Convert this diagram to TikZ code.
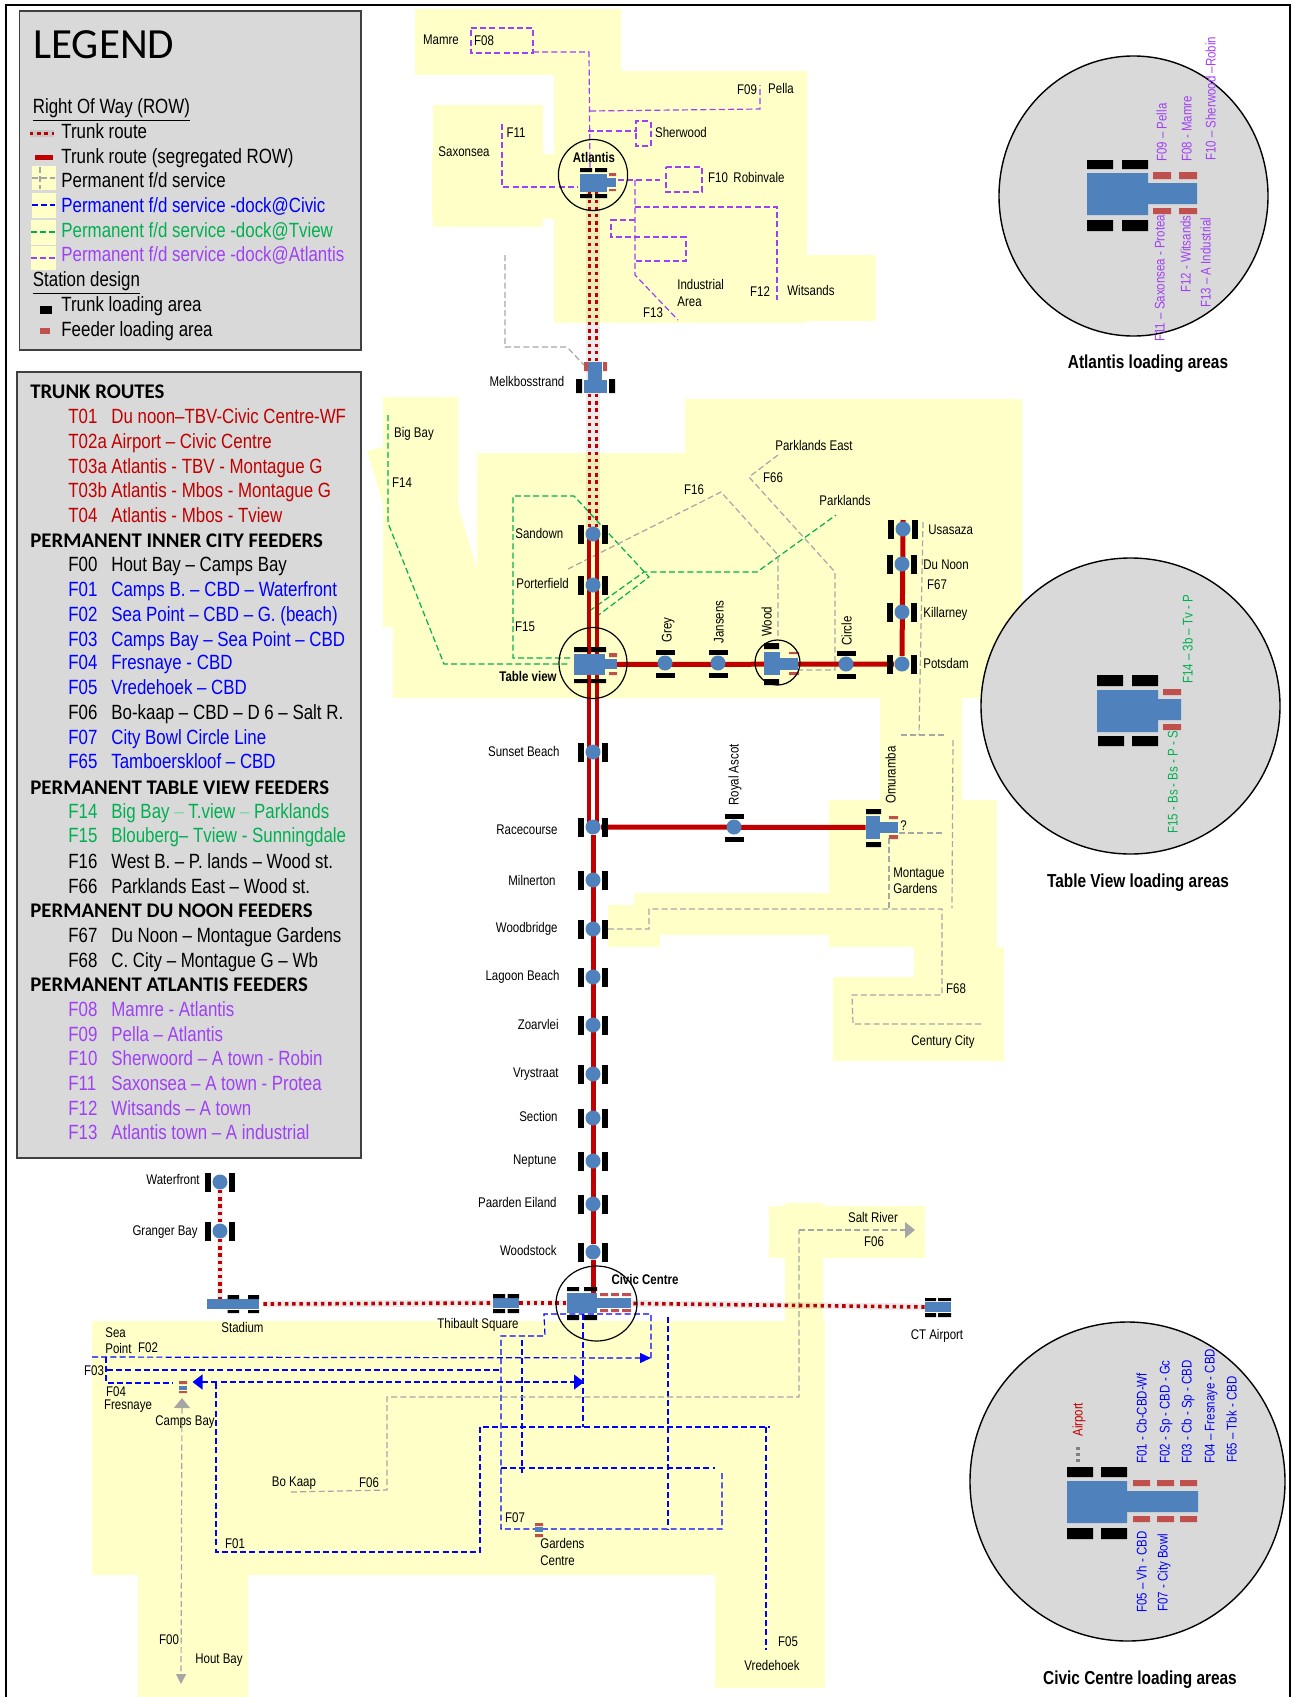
\documentclass[tikz,border=0pt]{standalone}
\usepackage{fontspec}
\setmainfont{Liberation Sans}[FakeStretch=0.82]
\newfontfamily\calib{Carlito}
\usepackage{tikz}
\usetikzlibrary{positioning,arrows.meta,shapes.geometric,backgrounds}
\usepackage{xcolor}
\definecolor{trunkred}{HTML}{C00000}
\definecolor{feedblue}{HTML}{0000FF}
\definecolor{feedgreen}{HTML}{00B050}
\definecolor{feedpurple}{HTML}{A040F5}
\definecolor{feedgray}{HTML}{A6A6A6}
\definecolor{landyellow}{HTML}{FFFFC8}
\definecolor{stnblue}{HTML}{4F81BD}
\definecolor{stnred}{HTML}{C0504D}
\definecolor{panelgray}{HTML}{D9D9D9}

\newcommand{\rowlab}[1]{\makebox[21.5pt][l]{#1}}
\newcommand{\stopv}[3]{%
  \node[barv] (#1l) at (#2-12,#3) {};
  \node[barv] (#1r) at (#2+12,#3) {};
  \node[stopdot] (#1) at (#2,#3) {};}
\newcommand{\stoph}[3]{%
  \node[barh] (#1t) at (#2,#3-11) {};
  \node[barh] (#1b) at (#2,#3+12) {};
  \node[stopdot] (#1) at (#2,#3) {};}

\begin{document}
\begin{tikzpicture}[
    x=0.5pt, y=-0.5pt,
    panel/.style={draw=black!75, line width=0.8pt, fill=panelgray},
    land/.style={fill=landyellow},
    legtxt/.style={anchor=west, inner sep=0pt, text height=7.6pt, text depth=1pt, font=\fontsize{10.3pt}{12pt}\selectfont},
    leghead/.style={anchor=west, inner sep=0pt, text height=7pt, text depth=1pt, font=\calib\bfseries\fontsize{10.4pt}{12pt}\selectfont},
    maplbl/.style={inner sep=0pt, text height=5.4pt, text depth=0.9pt, font=\fontsize{7pt}{8pt}\selectfont},
    boldlbl/.style={inner sep=0pt, text height=5.4pt, text depth=0.9pt, font=\bfseries\fontsize{7pt}{8pt}\selectfont},
    titlelbl/.style={inner sep=0pt, text height=7pt, text depth=1pt, font=\bfseries\fontsize{9.4pt}{11pt}\selectfont},
    rotlbl/.style={rotate=90, anchor=west, inner sep=0pt, text height=5.4pt, text depth=0.9pt, font=\fontsize{7pt}{8pt}\selectfont},
    barv/.style={rectangle, fill=black, inner sep=0pt, minimum width=3pt, minimum height=9.5pt},
    barh/.style={rectangle, fill=black, inner sep=0pt, minimum width=9.5pt, minimum height=2.5pt},
    stopdot/.style={circle, fill=stnblue, inner sep=0pt, minimum size=7.5pt},
    stnbody/.style={rectangle, fill=stnblue, inner sep=0pt},
    ring/.style={ellipse, draw=black, line width=0.6pt, inner sep=0pt},
    bigring/.style={ellipse, draw=black, line width=0.7pt, fill=panelgray, inner sep=0pt},
    trunk/.style={draw=trunkred, line width=2.5pt},
    trunkpair/.style={draw=trunkred, line width=2pt},
    dotroute/.style={draw=trunkred, line width=1.8pt, dash pattern=on 1.7pt off 1.9pt,
        preaction={draw=black, draw opacity=0.08, line width=3.4pt, solid}},
    feedg/.style={draw=feedgray, line width=0.6pt, dash pattern=on 3pt off 1.6pt},
    feedb/.style={draw=feedblue, line width=0.6pt, dash pattern=on 3pt off 1.6pt},
    feedt/.style={draw=feedgreen, line width=0.6pt, dash pattern=on 3pt off 1.6pt},
    feedp/.style={draw=feedpurple, line width=0.6pt, dash pattern=on 3pt off 1.6pt}
]
\useasboundingbox (0,0) rectangle (1292,1697);
\draw[line width=1pt] (6,1697) -- (6,5) -- (1290,5) -- (1290,1697);

% legend
\draw[panel] (19.5,11) rectangle (361,350);
\node[anchor=west, inner sep=0pt, font=\calib\fontsize{21.5pt}{24pt}\selectfont] (legendttl) at (33,45) {LEGEND};
\node[legtxt] (rowhead) at (32.5,107) {\underline{Right Of Way (ROW)}};
\node[legtxt] (keyone) at (61,132) {Trunk route};
\node[legtxt] (keytwo) at (61,157) {Trunk route (segregated ROW)};
\node[legtxt] (keythree) at (61,181) {Permanent f/d service};
\node[legtxt, text=feedblue] (keyfour) at (61,206) {Permanent f/d service -dock@Civic};
\node[legtxt, text=feedgreen] (keyfive) at (61,231) {Permanent f/d service -dock@Tview};
\node[legtxt, text=feedpurple] (keysix) at (61,255) {Permanent f/d service -dock@Atlantis};
\node[legtxt] (stnhead) at (32.5,280) {\underline{Station design}};
\node[legtxt] (keyseven) at (61,305) {Trunk loading area};
\node[legtxt] (keyeight) at (61,330) {Feeder loading area};
\fill[land] (32,166) rectangle (56,190);
\fill[land] (32,193) rectangle (56,218);
\fill[land] (31,220) rectangle (56,245);
\fill[land] (31,246) rectangle (56,270);
\draw[dotroute] (30,133.5) -- (54,133.5);
\draw[trunk] (35,157) -- (53,157);
\draw[feedg] (32,178) -- (55,178);
\draw[feedg] (40,167) -- (40,189);
\draw[feedb] (32,205) -- (55,205);
\draw[feedt] (31,232) -- (55,232);
\draw[feedp] (31,258) -- (55,258);
\fill (40,306) rectangle (52,314);
\fill[stnred] (40,328) rectangle (50,334);

% route list
\draw[panel] (17,372) rectangle (361,1158);
\node[leghead] (hdtrunk) at (30,392) {TRUNK ROUTES};
\node[legtxt, text=trunkred] (t01) at (68,417) {\rowlab{T01}Du noon--TBV-Civic Centre-WF};
\node[legtxt, text=trunkred] (t02a) at (68,442) {\rowlab{T02a}Airport -- Civic Centre};
\node[legtxt, text=trunkred] (t03a) at (68,467) {\rowlab{T03a}Atlantis - TBV - Montague G};
\node[legtxt, text=trunkred] (t03b) at (68,491) {\rowlab{T03b}Atlantis - Mbos - Montague G};
\node[legtxt, text=trunkred] (t04) at (68,516) {\rowlab{T04}Atlantis - Mbos - Tview};
\node[leghead] (hdinner) at (30,541) {PERMANENT INNER CITY FEEDERS};
\node[legtxt] (f00) at (68,565) {\rowlab{F00}Hout Bay -- Camps Bay};
\node[legtxt, text=feedblue] (f01) at (68,590) {\rowlab{F01}Camps B. -- CBD -- Waterfront};
\node[legtxt, text=feedblue] (f02) at (68,615) {\rowlab{F02}Sea Point -- CBD -- G. (beach)};
\node[legtxt, text=feedblue] (f03) at (68,640) {\rowlab{F03}Camps Bay -- Sea Point -- CBD};
\node[legtxt, text=feedblue] (f04) at (68,663) {\rowlab{F04}Fresnaye - CBD};
\node[legtxt, text=feedblue] (f05) at (68,688) {\rowlab{F05}Vredehoek -- CBD};
\node[legtxt] (f06) at (68,713) {\rowlab{F06}Bo-kaap -- CBD -- D 6 -- Salt R.};
\node[legtxt, text=feedblue] (f07) at (68,738) {\rowlab{F07}City Bowl Circle Line};
\node[legtxt, text=feedblue] (f65) at (68,762) {\rowlab{F65}Tamboerskloof -- CBD};
\node[leghead] (hdtable) at (30,788) {PERMANENT TABLE VIEW FEEDERS};
\node[legtxt, text=feedgreen] (f14) at (68,812) {\rowlab{F14}Big Bay \textcolor{feedgreen!50}{--} T.view \textcolor{feedgreen!50}{--} Parklands};
\node[legtxt, text=feedgreen] (f15) at (68,836) {\rowlab{F15}Blouberg-- Tview - Sunningdale};
\node[legtxt] (f16) at (68,862) {\rowlab{F16}West B. -- P. lands -- Wood st.};
\node[legtxt] (f66) at (68,887) {\rowlab{F66}Parklands East -- Wood st.};
\node[leghead] (hdnoon) at (30,911) {PERMANENT DU NOON FEEDERS};
\node[legtxt] (f67) at (68,936) {\rowlab{F67}Du Noon -- Montague Gardens};
\node[legtxt] (f68) at (68,961) {\rowlab{F68}C. City -- Montague G -- Wb};
\node[leghead] (hdatl) at (30,985) {PERMANENT ATLANTIS FEEDERS};
\node[legtxt, text=feedpurple] (f08) at (68,1010) {\rowlab{F08}Mamre - Atlantis};
\node[legtxt, text=feedpurple] (f09) at (68,1035) {\rowlab{F09}Pella -- Atlantis};
\node[legtxt, text=feedpurple] (f10) at (68,1059) {\rowlab{F10}Sherwoord -- A town - Robin};
\node[legtxt, text=feedpurple] (f11) at (68,1084) {\rowlab{F11}Saxonsea -- A town - Protea};
\node[legtxt, text=feedpurple] (f12) at (68,1109) {\rowlab{F12}Witsands -- A town};
\node[legtxt, text=feedpurple] (f13) at (68,1133) {\rowlab{F13}Atlantis town -- A industrial};

% stops
\stopv{sandown}{593}{534}
\stopv{porterfield}{593}{585}
\stopv{sunset}{593}{752}
\stopv{racecourse}{593}{827}
\stopv{milnerton}{593}{880}
\stopv{woodbridge}{593}{929}
\stopv{lagoon}{593}{977}
\stopv{zoarvlei}{593}{1025}
\stopv{vrystraat}{593}{1074}
\stopv{section}{593}{1118}
\stopv{neptune}{593}{1161}
\stopv{paarden}{593}{1204}
\stopv{woodstock}{593}{1252}
\stopv{waterfront}{220}{1182}
\stopv{granger}{220}{1231}
\stopv{potsdam}{902}{664}
\stopv{killarney}{902}{612}
\stopv{dunoon}{902}{564}
\stopv{usasaza}{903}{529}
\stoph{grey}{665}{663}
\stoph{jansens}{718}{663}
\stoph{circlestop}{846}{664}
\stoph{royalascot}{734}{827}

% stations
\node[stnbody, minimum width=13.5pt, minimum height=9pt] (atlantis) at (593,183) {};
\fill[stnblue] (606,178) rectangle (616,187);
\fill (580,168) rectangle (592,172) (595,168) rectangle (607,172) (580,194) rectangle (592,198) (595,194) rectangle (607,198);
\fill[stnred] (609,173) rectangle (616,176) (609,189) rectangle (616,191);
\node[stnbody, minimum width=11.5pt, minimum height=6.5pt] (melkboss) at (595.5,386.5) {};
\fill[stnblue] (588,362) rectangle (602,381);
\fill (576,379) rectangle (582,393) (609,379) rectangle (615,393);
\fill[stnred] (584,362) rectangle (588,371) (603,362) rectangle (607,371);
\node[stnbody, minimum width=15.5pt, minimum height=10.5pt] (tableview) at (589.5,664.5) {};
\fill[stnblue] (604,659) rectangle (617,669);
\fill (574,647) rectangle (588,652) (591,647) rectangle (606,652) (574,679) rectangle (588,683) (591,679) rectangle (606,683);
\fill[stnred] (609,653) rectangle (617,657) (609,672) rectangle (617,675);
\node[stnbody, minimum width=8pt, minimum height=11.5pt] (wood) at (772,663.5) {};
\fill[stnblue] (779,658) rectangle (798,670);
\fill (764,643) rectangle (779,649) (764,679) rectangle (779,685);
\fill[stnred] (789,652) rectangle (799,654) (789,672) rectangle (799,675);
\node[stnbody, minimum width=7pt, minimum height=11.5pt] (omuramba) at (873,827.5) {};
\fill[stnblue] (879,822) rectangle (898,833);
\fill (866,809) rectangle (881,814) (866,842) rectangle (881,847);
\fill[stnred] (889,816) rectangle (898,819) (889,835) rectangle (898,839);
\node[stnbody, minimum width=26pt, minimum height=5pt] (stadium) at (233,1304) {};
\fill (227.5,1295) rectangle (239,1299) (248,1295) rectangle (259,1299) (227.5,1310) rectangle (239,1313) (248,1310) rectangle (259,1313);
\node[stnbody, minimum width=13pt, minimum height=5pt] (thibault) at (506,1303) {};
\fill (493,1294) rectangle (505,1298) (507.5,1294) rectangle (519,1298) (493,1309) rectangle (505,1313) (507.5,1309) rectangle (519,1313);
\node[stnbody, minimum width=15pt, minimum height=10pt] (civic) at (582,1303) {};
\fill[stnblue] (596,1298) rectangle (631,1308);
\fill (567,1287) rectangle (579,1291) (584,1287) rectangle (597,1291) (567,1315) rectangle (579,1320) (584,1315) rectangle (597,1320);
\fill[stnred] (600,1293) rectangle (608,1296) (611,1293) rectangle (619,1296) (622,1293) rectangle (631,1296);
\fill[stnred] (600,1309) rectangle (608,1312) (611,1309) rectangle (619,1312) (622,1309) rectangle (631,1312);
\node[stnbody, minimum width=13pt, minimum height=5pt] (airport) at (938,1307) {};
\fill (925,1298) rectangle (936,1301) (938,1298) rectangle (951,1301) (925,1313) rectangle (936,1317) (938,1313) rectangle (951,1317);
\fill[stnred] (179,1381) rectangle (187,1384) (179,1391) rectangle (187,1393);
\fill[stnblue] (179,1386) rectangle (187,1390);
\fill[stnred] (535,1523) rectangle (543,1526) (535,1534) rectangle (543,1537);
\fill[stnblue] (535,1527) rectangle (543,1532);

\node[ring, minimum width=34.6pt, minimum height=35.5pt] (atlring) at (593,175) {};
\node[ring, minimum width=34pt, minimum height=35.5pt] (tablering) at (593,663) {};
\node[ring, minimum width=22.5pt, minimum height=22.5pt] (woodring) at (777.5,662.5) {};
\node[ring, minimum width=40.5pt, minimum height=37.5pt] (civicring) at (596.5,1303.5) {};

% map labels
\node[maplbl] (mamre) at (441,40) {Mamre};
\node[maplbl] (ff08) at (484,41) {F08};
\node[maplbl] (ff09) at (747,90) {F09};
\node[maplbl] (pella) at (781,89) {Pella};
\node[maplbl] (ff11) at (516,133) {F11};
\node[maplbl] (sherwood) at (681,133) {Sherwood};
\node[maplbl] (saxonsea) at (464,152) {Saxonsea};
\node[boldlbl] (atlantislbl) at (594,158) {Atlantis};
\node[maplbl] (ff10) at (718,178) {F10};
\node[maplbl] (robinvale) at (759,178) {Robinvale};
\node[maplbl, anchor=west] (industrial) at (677,285) {Industrial};
\node[maplbl, anchor=west] (area) at (677,302) {Area};
\node[maplbl] (ff13) at (653,313) {F13};
\node[maplbl] (ff12) at (760,292) {F12};
\node[maplbl] (witsands) at (811,291) {Witsands};
\node[maplbl] (melklbl) at (527,382) {Melkbosstrand};
\node[maplbl] (bigbay) at (414,433) {Big Bay};
\node[maplbl] (ff14) at (402,483) {F14};
\node[maplbl] (ff16) at (694,490) {F16};
\node[maplbl] (ff66) at (773,478) {F66};
\node[maplbl] (parkeast) at (814,446) {Parklands East};
\node[maplbl] (parklands) at (845,501) {Parklands};
\node[maplbl, anchor=west] (sandownlbl) at (515,534) {Sandown};
\node[maplbl, anchor=west] (porterlbl) at (516,584) {Porterfield};
\node[maplbl] (ff15) at (525,627) {F15};
\node[boldlbl] (tablelbl) at (528,677) {Table view};
\node[maplbl, rotate=90] (greylbl) at (667,630) {Grey};
\node[maplbl, rotate=90] (jansenslbl) at (719,622) {Jansens};
\node[maplbl, rotate=90] (woodlbl) at (767,622) {Wood};
\node[maplbl, rotate=90] (circlelbl) at (847,631) {Circle};
\node[maplbl, anchor=west] (usasazalbl) at (928,530) {Usasaza};
\node[maplbl, anchor=west] (dunoonlbl) at (923,565) {Du Noon};
\node[maplbl] (ff67) at (937,585) {F67};
\node[maplbl, anchor=west] (killarneylbl) at (923,613) {Killarney};
\node[maplbl, anchor=west] (potsdamlbl) at (923,664) {Potsdam};
\node[maplbl, rotate=90] (royallbl) at (734,775) {Royal Ascot};
\node[maplbl, rotate=90] (omurambalbl) at (891,775) {Omuramba};
\node[maplbl] (query) at (903.5,826) {?};
\node[maplbl, anchor=west] (montague) at (893,873) {Montague};
\node[maplbl, anchor=west] (gardens) at (893,889) {Gardens};
\node[maplbl] (ff68) at (956,989) {F68};
\node[maplbl] (century) at (943,1041) {Century City};
\node[maplbl, anchor=east] (sunsetlbl) at (560,752) {Sunset Beach};
\node[maplbl, anchor=east] (racelbl) at (558,830) {Racecourse};
\node[maplbl, anchor=east] (milnertonlbl) at (556,881) {Milnerton};
\node[maplbl, anchor=east] (woodbridgelbl) at (558,928) {Woodbridge};
\node[maplbl, anchor=east] (lagoonlbl) at (560,976) {Lagoon Beach};
\node[maplbl, anchor=east] (zoarvleilbl) at (559,1025) {Zoarvlei};
\node[maplbl, anchor=east] (vrystraatlbl) at (559,1073) {Vrystraat};
\node[maplbl, anchor=east] (sectionlbl) at (558,1117) {Section};
\node[maplbl, anchor=east] (neptunelbl) at (557,1160) {Neptune};
\node[maplbl, anchor=east] (paardenlbl) at (557,1203) {Paarden Eiland};
\node[maplbl, anchor=east] (woodstocklbl) at (557,1251) {Woodstock};
\node[maplbl, anchor=east] (waterfrontlbl) at (200,1180) {Waterfront};
\node[maplbl, anchor=east] (grangerlbl) at (198,1231) {Granger Bay};
\node[maplbl] (stadiumlbl) at (242.5,1328) {Stadium};
\node[maplbl] (thibaultlbl) at (478,1324) {Thibault Square};
\node[boldlbl] (civiclbl) at (645,1280) {Civic Centre};
\node[maplbl] (airportlbl) at (937,1335) {CT Airport};
\node[maplbl] (saltriver) at (873,1218) {Salt River};
\node[maplbl] (ff06a) at (874,1242) {F06};
\node[maplbl, anchor=west] (sea) at (105,1333) {Sea};
\node[maplbl, anchor=west] (point) at (105,1349) {Point};
\node[maplbl] (ff02) at (148,1348) {F02};
\node[maplbl] (ff03) at (94,1370.5) {F03};
\node[maplbl] (ff04) at (116,1391.5) {F04};
\node[maplbl] (fresnaye) at (128,1405) {Fresnaye};
\node[maplbl] (campsbay) at (185,1421) {Camps Bay};
\node[maplbl] (bokaap) at (294,1482) {Bo Kaap};
\node[maplbl] (ff06b) at (369,1483) {F06};
\node[maplbl] (ff01) at (235,1544) {F01};
\node[maplbl] (ff07) at (515,1518) {F07};
\node[maplbl, anchor=west] (gardensc) at (540,1544) {Gardens};
\node[maplbl, anchor=west] (centre) at (540,1561) {Centre};
\node[maplbl] (ff00) at (169,1640) {F00};
\node[maplbl] (houtbay) at (219,1659) {Hout Bay};
\node[maplbl] (ff05) at (788,1642) {F05};
\node[maplbl] (vredehoek) at (772,1666) {Vredehoek};

% loading area panels
\node[bigring, minimum width=134.5pt, minimum height=140pt] (atlpanel) at (1133.5,196) {};
\fill[stnblue] (1087,173) rectangle (1148,215) (1147,183) rectangle (1197,204);
\fill (1087,160) rectangle (1113,169) (1122,160) rectangle (1148,169) (1087,220) rectangle (1113,231) (1122,220) rectangle (1148,231);
\fill[stnred] (1153,172) rectangle (1171,179) (1179,172) rectangle (1197,179) (1153,208) rectangle (1171,214) (1179,208) rectangle (1197,214);
\node[rotlbl, text=feedpurple] (atlf09) at (1162,162) {F09 -- Pella};
\node[rotlbl, text=feedpurple] (atlf08) at (1187,162) {F08 - Mamre};
\node[rotlbl, text=feedpurple] (atlf10) at (1211,161) {F10 -- Sherwood --Robin};
\node[rotlbl, text=feedpurple] (atlf11) at (1160,342) {F11 -- Saxonsea - Protea};
\node[rotlbl, text=feedpurple] (atlf12) at (1186,293) {F12 - Witsands};
\node[rotlbl, text=feedpurple] (atlf13) at (1206,308) {F13 -- A Industrial};
\node[titlelbl] (atltitle) at (1148,362) {Atlantis loading areas};

\node[bigring, minimum width=149.5pt, minimum height=148pt] (tvpanel) at (1130.5,706) {};
\fill[stnblue] (1097,690) rectangle (1158,732) (1157,699) rectangle (1181,720);
\fill (1097,675) rectangle (1123,686) (1132,675) rectangle (1158,686) (1098,736) rectangle (1124,746) (1132,736) rectangle (1158,746);
\fill[stnred] (1163,689) rectangle (1181,695) (1163,724) rectangle (1181,730);
\node[rotlbl, text=feedgreen] (tvf14) at (1188,684) {F14 -- 3b -- Tv - P};
\node[rotlbl, text=feedgreen] (tvf15) at (1173,834) {F15 - Bs - Bs - P - S};
\node[titlelbl] (tvtitle) at (1138,881) {Table View loading areas};

\node[bigring, minimum width=157.5pt, minimum height=159.5pt] (civpanel) at (1127.5,1481.5) {};
\fill[stnblue] (1067,1481) rectangle (1127,1523) (1126,1491) rectangle (1198,1512);
\fill (1067,1467) rectangle (1093,1477) (1101,1467) rectangle (1127,1477) (1067,1528) rectangle (1093,1539) (1101,1528) rectangle (1127,1539);
\fill[stnred] (1133,1480) rectangle (1150,1486) (1157,1480) rectangle (1174,1486) (1180,1480) rectangle (1197,1486);
\fill[stnred] (1133,1516) rectangle (1150,1522) (1157,1516) rectangle (1174,1522) (1180,1516) rectangle (1197,1522);
\draw[draw=black!50, line width=2pt, dash pattern=on 1.7pt off 1.2pt] (1078,1447) -- (1078,1463);
\node[rotlbl, text=trunkred] (civair) at (1078,1437) {Airport};
\node[rotlbl, text=feedblue] (civf01) at (1142,1464) {F01 - Cb-CBD-Wf};
\node[rotlbl, text=feedblue] (civf02) at (1165,1464) {F02 - Sp - CBD - Gc};
\node[rotlbl, text=feedblue] (civf03) at (1187,1464) {F03 - Cb - Sp - CBD};
\node[rotlbl, text=feedblue] (civf04) at (1210,1464) {F04 -- Fresnaye - CBD};
\node[rotlbl, text=feedblue] (civf65) at (1232,1463) {F65 -- Tbk - CBD};
\node[rotlbl, text=feedblue] (civf05) at (1142,1613) {F05 -- Vh - CBD};
\node[rotlbl, text=feedblue] (civf07) at (1163,1612) {F07 - City Bowl};
\node[titlelbl] (civtitle) at (1140,1678) {Civic Centre loading areas};

\begin{scope}[on background layer]
% land
\fill[land] (415,9) rectangle (621,75);
\fill[land] (554,71) rectangle (807,323);
\fill[land] (807,255) rectangle (876,321);
\fill[land] (433,105) rectangle (543,227);
\fill[land] (432,154) rectangle (554,219);
\fill[land] (383,397) -- (458,397) -- (458,505) -- (477,570) -- (477,627) -- (383,627) -- (383,503) -- (367,451) -- (383,447) -- cycle;
\fill[land] (477,453) -- (685,453) -- (685,399) -- (1022,399) -- (1022,698) -- (393,698) -- (393,627) -- (477,627) -- cycle;
\fill[land] (880,698) rectangle (962,800);
\fill[land] (829,800) rectangle (997,947);
\fill[land] (634,893) rectangle (829,935);
\fill[land] (608,905) rectangle (660,947);
\fill[land] (914,947) rectangle (1004,977);
\fill[land] (833,977) rectangle (1004,1061);
\fill[land] (769,1206) rectangle (925,1258);
\fill[land] (785,1203) rectangle (823,1321);
\fill[land] (92,1321) rectangle (825,1575);
\fill[land] (715,1575) rectangle (825,1688);
\fill[land] (138,1575) rectangle (248,1697);

% atlantis feeders
\draw[feedp] (471,28) -- (533,28) -- (533,53) -- (471,53) -- cycle;
\draw[feedp] (533,52) -- (589,52) -- (590,170);
\draw[feedp] (590,111) -- (760,109) -- (760,85);
\draw[feedp] (588,131) -- (636,131) -- (636,121) -- (651,121) -- (651,146) -- (636,146) -- (636,131);
\draw[feedp] (618,180) -- (660,180);
\draw[feedp] (666,167) -- (702,167) -- (702,192) -- (666,192) -- cycle;
\draw[feedp] (502,124) -- (502,187) -- (578,187);
\draw[feedp] (635,180) -- (635,275) -- (678,320);
\draw[feedp] (635,207) -- (777,207) -- (777,300);
\draw[feedp] (635,220) -- (611,220) -- (611,237) -- (686,237) -- (686,261) -- (636,261);
\draw[feedg] (505,255) -- (505,347) -- (567,347) -- (584,365);

% table view feeders
\draw[feedt] (388,415) -- (388,523) -- (444,664) -- (570,664);
\draw[feedt] (570,658) -- (513,658) -- (513,496) -- (574,496) -- (649,577) -- (596,617) -- (596,647);
\draw[feedt] (588,647) -- (588,612) -- (644,572) -- (757,572) -- (836,515);
\draw[feedg] (568,569) -- (721,492) -- (778,555) -- (778,638);
\draw[feedg] (778,455) -- (749,477) -- (835,572) -- (835,670) -- (799,670);
\draw[feedg] (923,522) -- (919,735);
\draw[feedg] (901,735) -- (945,735);
\draw[feedg] (953,740) -- (952,908);
\draw[feedg] (899,833) -- (942,833);
\draw[feedg] (889,838) -- (889,909);
\draw[feedg] (608,929) -- (649,929) -- (649,909) -- (942,909) -- (942,995) -- (852,995) -- (853,1024) -- (983,1024);

% civic feeders
\draw[feedb, -{Triangle[length=5.5pt,width=5pt]}] (92,1357) -- (651,1358);
\draw[feedb] (651,1358) -- (651,1314) -- (544,1314) -- (545,1336) -- (501,1336) -- (501,1529) -- (722,1529) -- (722,1473);
\draw[feedb] (106,1357) -- (106,1383) -- (173,1383);
\draw[feedb] (107,1370) -- (501,1370);
\draw[feedb, {Triangle[length=5pt,width=7.5pt]}-{Triangle[length=5pt,width=7.5pt]}] (192.5,1382) -- (584,1382);
\draw[feedb] (216,1383) -- (216,1552) -- (480,1552) -- (480,1427) -- (770,1427);
\draw[feedb] (501,1468) -- (715,1468);
\draw[feedb] (522,1340) -- (522,1473);
\draw[feedb] (583,1314) -- (583,1427);
\draw[feedb] (766,1427) -- (766,1650);
\draw[feedb] (668,1317) -- (668,1529);
\draw[feedg] (291,1492) -- (387,1490) -- (387,1397) -- (799,1397) -- (799,1230);
\draw[feedg, -{Triangle[length=5pt,width=8pt]}] (799,1230) -- (915,1230);
\draw[feedg, {Triangle[length=5pt,width=8pt]}-{Triangle[length=5pt,width=5pt]}] (182,1398) -- (181,1684);

% trunks
\draw[dotroute] ([xshift=-1.8pt]atlantis.south) -- ([xshift=-1.8pt]sandown.center);
\draw[dotroute] ([xshift=1.8pt]atlantis.south) -- ([xshift=1.8pt]sandown.center);
\draw[trunkpair] ([xshift=-1.8pt]sandown.center) -- ([xshift=-1.8pt]racecourse.center);
\draw[trunkpair] ([xshift=1.8pt]sandown.center) -- ([xshift=1.8pt]racecourse.center);
\draw[trunk] (racecourse) -- (woodstock) -- (woodstock |- civic.north);
\draw[trunk] (tableview) -- (potsdam);
\draw[trunk] (potsdam) -- ([yshift=4.5pt]usasaza.center);
\draw[trunk] (racecourse) -- (omuramba);
\draw[dotroute] (waterfront) -- (granger) -- (granger |- stadium.north);
\draw[dotroute] ([xshift=2pt]stadium.east) -- (thibault.west);
\draw[dotroute] (thibault.east) -- (civic.west);
\draw[dotroute] (civic.east) -- (airport.west);
\end{scope}
\end{tikzpicture}
\end{document}
